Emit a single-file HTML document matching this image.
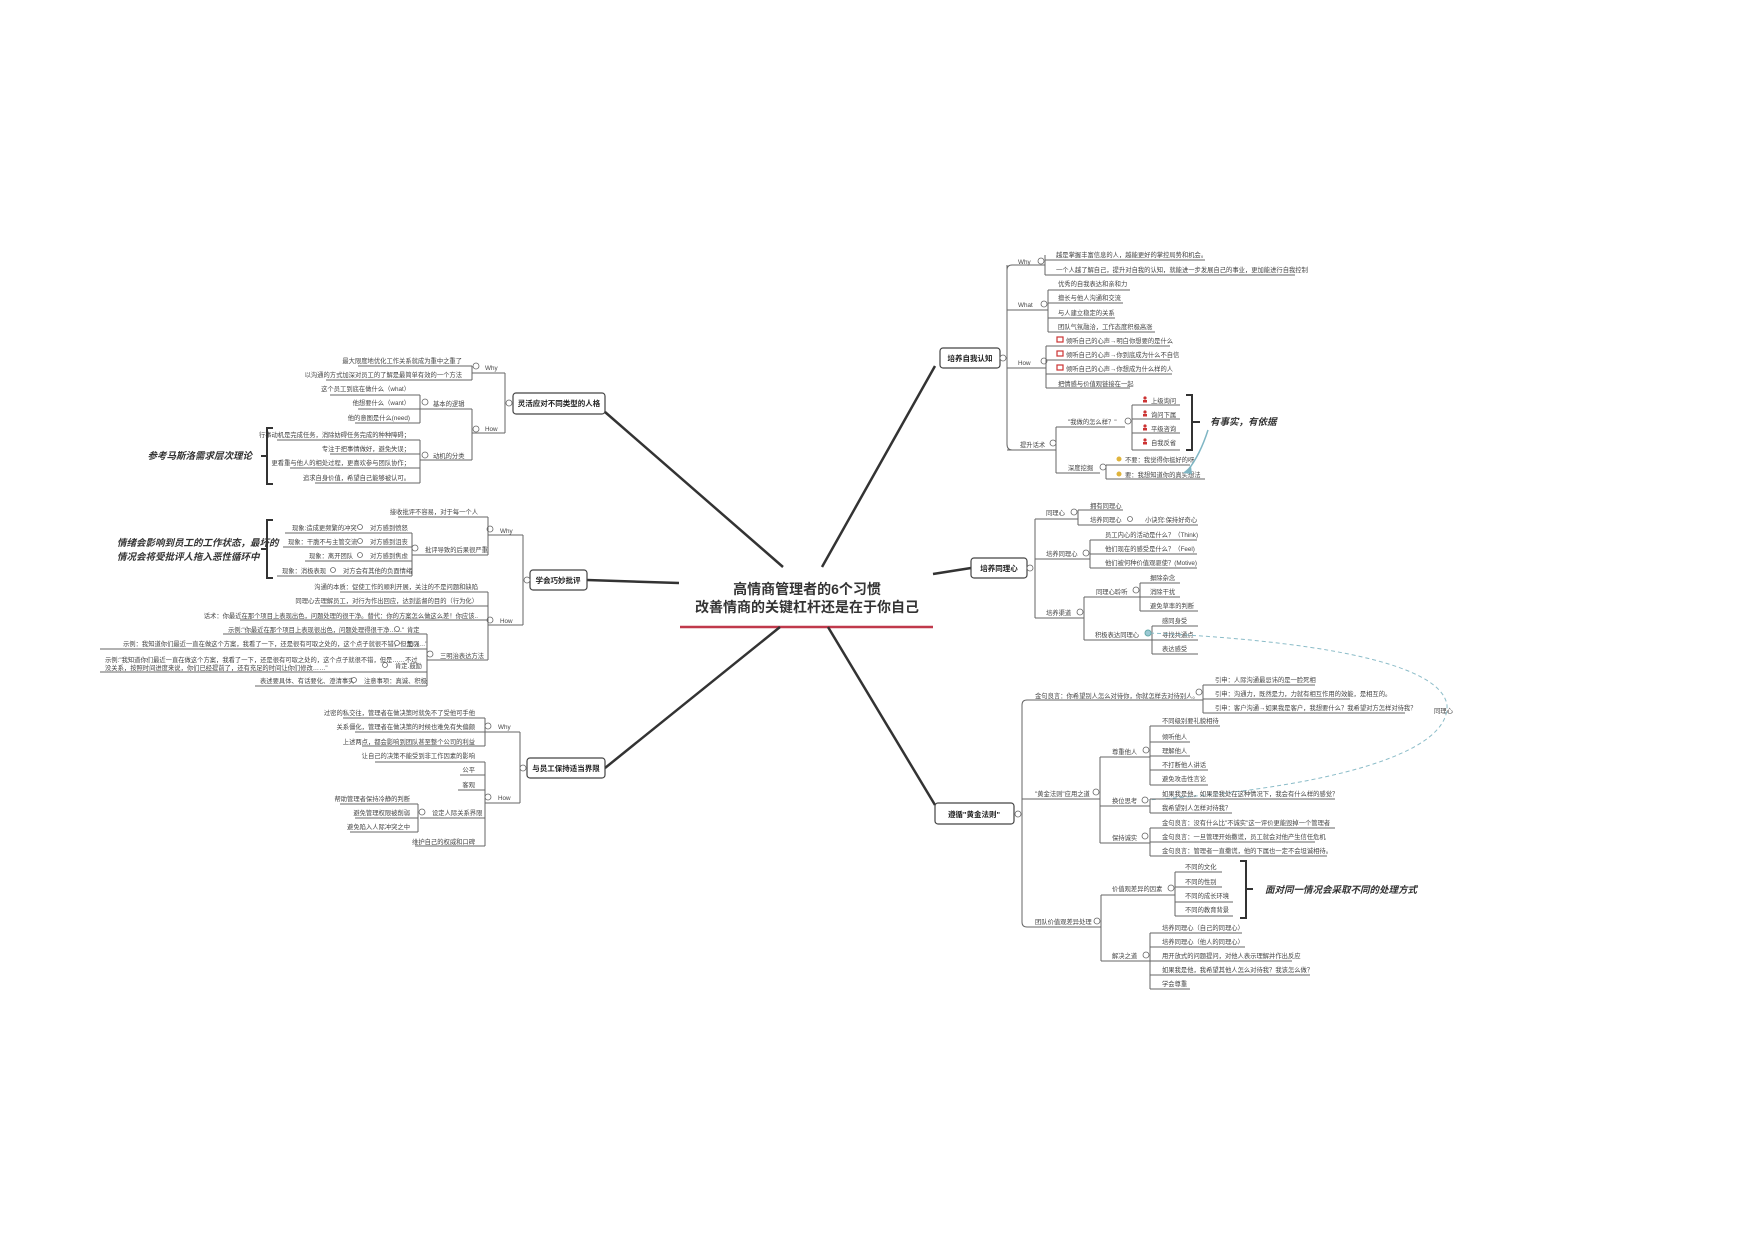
<!DOCTYPE html>
<html><head><meta charset="utf-8"><style>
html,body{margin:0;padding:0;background:#fff}
svg{display:block}
text{font-family:"Liberation Sans","Noto Sans CJK SC",sans-serif;font-size:6.3px;fill:#444}
.r{text-anchor:end}
.b{font-weight:bold;fill:#222;font-size:7.5px}
.bi{font-weight:bold;font-style:italic;fill:#333;font-size:9.5px}
.ln{stroke:#666;stroke-width:1;fill:none}
.m{stroke:#333;stroke-width:2.5;fill:none}
.c{fill:#fff;stroke:#666;stroke-width:.8}
.box{fill:#fff;stroke:#444;stroke-width:1.2}
</style></head><body>
<svg width="1754" height="1239" viewBox="0 0 1754 1239" xmlns="http://www.w3.org/2000/svg">
<!-- root -->
<text x="807" y="594" style="font-size:14px;font-weight:bold;fill:#333;text-anchor:middle">高情商管理者的6个习惯</text>
<text x="807" y="612" style="font-size:14px;font-weight:bold;fill:#333;text-anchor:middle">改善情商的关键杠杆还是在于你自己</text>
<line x1="680" y1="627" x2="933" y2="627" stroke="#c0394b" stroke-width="2.5"/>
<!-- main branches -->
<path class="m" d="M783 567 L605 412"/>
<path class="m" d="M822 567 L935 366"/>
<path class="m" d="M679 583 L587 580"/>
<path class="m" d="M933 574 L971 568"/>
<path class="m" d="M780 627 L605 768"/>
<path class="m" d="M828 627 L935 805"/>
<!-- boxes -->
<rect class="box" x="940" y="348" width="60" height="20" rx="3"/><text class="b" x="970" y="361" text-anchor="middle">培养自我认知</text>
<rect class="box" x="513" y="393" width="92" height="21" rx="3"/><text class="b" x="559" y="406" text-anchor="middle">灵活应对不同类型的人格</text>
<rect class="box" x="530" y="570" width="57" height="20" rx="3"/><text class="b" x="558" y="583" text-anchor="middle">学会巧妙批评</text>
<rect class="box" x="527" y="758" width="78" height="20" rx="3"/><text class="b" x="566" y="771" text-anchor="middle">与员工保持适当界限</text>
<rect class="box" x="971" y="558" width="56" height="20" rx="3"/><text class="b" x="999" y="571" text-anchor="middle">培养同理心</text>
<rect class="box" x="935" y="803" width="79" height="21" rx="3"/><text class="b" x="974" y="817" text-anchor="middle">遵循"黄金法则"</text>

<!-- ========== 培养自我认知 ========== -->
<path class="ln" d="M1002 358 H1007 M1007 265 V444 M1007 270 Q1007 265 1012 265 H1045 M1007 310 H1048 M1007 368 H1046 M1007 450 H1056 M1007 444 Q1007 450 1012 450"/>
<circle class="c" cx="1003" cy="358" r="3"/>
<text x="1018" y="264">Why</text><circle class="c" cx="1041" cy="261" r="3"/>
<path class="ln" d="M1045 255 V275 M1045 260 H1205 M1045 275 H1295"/>
<text x="1056" y="257">越是掌握丰富信息的人，越能更好的掌控局势和机会。</text>
<text x="1056" y="272">一个人越了解自己，提升对自我的认知，就能进一步发展自己的事业，更加能进行自我控制</text>
<text x="1018" y="307">What</text><circle class="c" cx="1044" cy="304" r="3"/>
<path class="ln" d="M1048 290 V332 M1048 290 H1130 M1048 303 H1123 M1048 318 H1115 M1048 332 H1155"/>
<text x="1058" y="286">优秀的自我表达和亲和力</text>
<text x="1058" y="300">擅长与他人沟通和交流</text>
<text x="1058" y="315">与人建立稳定的关系</text>
<text x="1058" y="329">团队气氛融洽，工作态度积极高涨</text>
<text x="1018" y="365">How</text><circle class="c" cx="1044" cy="361" r="3"/>
<path class="ln" d="M1046 346 V388 M1046 346 H1170 M1046 360 H1170 M1046 374 H1172 M1046 388 H1130"/>
<rect x="1057" y="337" width="6" height="5" fill="#fff" stroke="#c33" stroke-width="1.2"/>
<rect x="1057" y="351" width="6" height="5" fill="#fff" stroke="#c33" stroke-width="1.2"/>
<rect x="1057" y="365" width="6" height="5" fill="#fff" stroke="#c33" stroke-width="1.2"/>
<text x="1066" y="343">倾听自己的心声→明白你想要的是什么</text>
<text x="1066" y="357">倾听自己的心声→你到底成为什么不自信</text>
<text x="1066" y="371">倾听自己的心声→你想成为什么样的人</text>
<text x="1058" y="386">把情感与价值观链接在一起</text>
<text x="1020" y="447">提升话术</text><circle class="c" cx="1053" cy="443" r="3"/>
<path class="ln" d="M1056 427 V473 M1056 427 H1125 M1056 473 H1100"/>
<text x="1068" y="424">"我做的怎么样？"</text><circle class="c" cx="1128" cy="421" r="3"/>
<path class="ln" d="M1132 405 V450 M1132 405 H1180 M1132 419 H1180 M1132 433 H1180 M1132 450 H1180"/>
<g fill="#c33"><circle cx="1145" cy="398" r="1.6"/><rect x="1143" y="400" width="4" height="2.5"/><circle cx="1145" cy="412" r="1.6"/><rect x="1143" y="414" width="4" height="2.5"/><circle cx="1145" cy="426" r="1.6"/><rect x="1143" y="428" width="4" height="2.5"/><circle cx="1145" cy="440" r="1.6"/><rect x="1143" y="442" width="4" height="2.5"/></g>
<text x="1151" y="403">上级询问</text><text x="1151" y="417">询问下属</text><text x="1151" y="431">平级咨询</text><text x="1151" y="445">自我反省</text>
<path d="M1186 395 H1192 V450 H1186 M1192 422 H1200" stroke="#333" stroke-width="2" fill="none"/>
<text class="bi" x="1210" y="425">有事实，有依据</text>
<text x="1068" y="470">深度挖掘</text><circle class="c" cx="1103" cy="467" r="3"/>
<path class="ln" d="M1106 465 V479 M1106 465 H1190 M1106 479 H1205"/>
<circle cx="1119" cy="459" r="2.5" fill="#e0b43c"/><circle cx="1119" cy="474" r="2.5" fill="#e0b43c"/>
<text x="1125" y="462">不要：我觉得你挺好的呀</text>
<text x="1125" y="477">要：我想知道你的真实想法</text>
<path d="M1208 430 Q1200 455 1188 470" stroke="#7fb6c4" stroke-width="1.5" fill="none"/>
<path d="M1183 473 L1191 466 L1192 474 Z" fill="#7fb6c4"/>

<!-- ========== 灵活应对 ========== -->
<circle class="c" cx="509" cy="403" r="3"/>
<path class="ln" d="M505 373 V433 M505 373 H472 M505 433 H472"/>
<text x="485" y="370">Why</text><circle class="c" cx="476" cy="366" r="3"/>
<path class="ln" d="M472 366 V380 M472 366 H358 M472 380 H326"/>
<text class="r" x="462" y="363">最大限度地优化工作关系就成为重中之重了</text>
<text class="r" x="462" y="377">以沟通的方式加深对员工的了解是最简单有效的一个方法</text>
<text x="485" y="431">How</text><circle class="c" cx="476" cy="429" r="3"/>
<path class="ln" d="M472 409 V460 M472 409 H420 M472 460 H420"/>
<text x="433" y="406">基本的逻辑</text><circle class="c" cx="425" cy="402" r="3"/>
<path class="ln" d="M420 395 V423 M420 395 H330 M420 409 H358 M420 423 H355"/>
<text class="r" x="410" y="391">这个员工到底在做什么（what）</text>
<text class="r" x="410" y="405">他想要什么（want）</text>
<text class="r" x="410" y="420">他的意图是什么(need)</text>
<text x="433" y="458">动机的分类</text><circle class="c" cx="425" cy="455" r="3"/>
<path class="ln" d="M420 440 V483 M420 440 H277 M420 454 H330 M420 468 H290 M420 483 H315"/>
<text class="r" x="410" y="437">行事动机是完成任务，消除妨碍任务完成的种种障碍；</text>
<text class="r" x="410" y="451">专注于把事情做好，避免失误；</text>
<text class="r" x="410" y="465">更看重与他人的相处过程，更喜欢参与团队协作；</text>
<text class="r" x="410" y="480">追求自身价值，希望自己能够被认可。</text>
<path d="M273 428 H267 V484 H273 M267 456 H261" stroke="#333" stroke-width="2" fill="none"/>
<text class="bi r" x="252" y="459">参考马斯洛需求层次理论</text>

<!-- ========== 学会巧妙批评 ========== -->
<circle class="c" cx="527" cy="580" r="3"/>
<path class="ln" d="M523 535 V625 M523 535 H488 M523 625 H488"/>
<text x="500" y="533">Why</text><circle class="c" cx="490" cy="529" r="3"/>
<path class="ln" d="M488 517 V555 M488 517 H398 M488 555 H412"/>
<text class="r" x="478" y="514">接收批评不容易，对于每一个人</text>
<text x="425" y="552">批评导致的后果很严重</text><circle class="c" cx="415" cy="548" r="3"/>
<path class="ln" d="M412 533 V576 M412 533 H285 M412 547 H283 M412 561 H305 M412 576 H277"/>
<text x="292" y="530">现象:造成更频繁的冲突</text><circle class="c" cx="360" cy="527" r="2.5"/><text x="370" y="530">对方感到愤怒</text>
<text x="288" y="544">现象：干脆不与主管交流</text><circle class="c" cx="360" cy="541" r="2.5"/><text x="370" y="544">对方感到沮丧</text>
<text x="309" y="558">现象：离开团队</text><circle class="c" cx="360" cy="555" r="2.5"/><text x="370" y="558">对方感到焦虑</text>
<text x="282" y="573">现象：消极表现</text><circle class="c" cx="333" cy="570" r="2.5"/><text x="343" y="573">对方会有其他的负面情绪</text>
<path d="M273 520 H267 V578 H273 M267 549 H261" stroke="#333" stroke-width="2" fill="none"/>
<text class="bi" x="117" y="546">情绪会影响到员工的工作状态，最坏的</text>
<text class="bi" x="117" y="560">情况会将受批评人拖入恶性循环中</text>
<text x="500" y="623">How</text><circle class="c" cx="490" cy="620" r="3"/>
<path class="ln" d="M488 592 V660 M488 592 H340 M488 606 H320 M488 620 H240 M488 660 H427"/>
<text class="r" x="478" y="589">沟通的本质：促使工作的顺利开展，关注的不是问题和缺陷</text>
<text class="r" x="478" y="603">同理心去理解员工，对行为作出回应，达到监督的目的（行为化）</text>
<text class="r" x="478" y="618">话术：你最近在那个项目上表现出色，问题处理的很干净。替代：你的方案怎么做这么差！你应该..</text>
<text x="440" y="658">三明治表达方法</text><circle class="c" cx="430" cy="654" r="3"/>
<path class="ln" d="M427 634 V686 M427 634 H223 M427 649 H100 M427 672 H100 M427 686 H255"/>
<text x="228" y="632">示例:"你最近在那个项目上表现很出色，问题处理得很干净……"</text><circle class="c" cx="397" cy="629" r="2.5"/><text x="407" y="632">肯定</text>
<text x="123" y="646">示例：我知道你们最近一直在做这个方案，我看了一下，还是很有可取之处的，这个点子就很不错，但是……"</text><circle class="c" cx="397" cy="643" r="2.5"/><text x="407" y="646">加强</text>
<text x="105" y="662">示例:"我知道你们最近一直在做这个方案，我看了一下，还是很有可取之处的，这个点子就很不错，但是……不过</text>
<text x="105" y="670">没关系，按照时间进度来说，你们已经提前了，还有充足的时间让你们修改……"</text>
<circle class="c" cx="385" cy="665" r="2.5"/><text x="395" y="668">肯定.鼓励</text>
<text x="260" y="683">表述要具体、有话要化、澄清事实</text><circle class="c" cx="354" cy="680" r="2.5"/><text x="364" y="683">注意事项：真诚、积极</text>

<!-- ========== 与员工保持适当界限 ========== -->
<circle class="c" cx="523" cy="768" r="3"/>
<path class="ln" d="M520 732 V803 M520 732 H485 M520 803 H485"/>
<text x="498" y="729">Why</text><circle class="c" cx="488" cy="726" r="3"/>
<path class="ln" d="M485 718 V746 M485 718 H343 M485 732 H355 M485 746 H362"/>
<text class="r" x="475" y="715">过密的私交往，管理者在做决策时就免不了受他可手他</text>
<text class="r" x="475" y="729">关系僵化，管理者在做决策的时候也难免有失偏颇</text>
<text class="r" x="475" y="744">上述两点，都会影响到团队甚至整个公司的利益</text>
<text x="498" y="800">How</text><circle class="c" cx="488" cy="797" r="3"/>
<path class="ln" d="M485 762 V846 M485 762 H375 M485 775 H460 M485 790 H458 M485 818 H420 M485 846 H415"/>
<text class="r" x="475" y="758">让自己的决策不能受到非工作因素的影响</text>
<text class="r" x="475" y="772">公平</text>
<text class="r" x="475" y="787">客观</text>
<text x="432" y="815">设定人际关系界限</text><circle class="c" cx="422" cy="812" r="3"/>
<path class="ln" d="M418 804 V832 M418 804 H340 M418 818 H355 M418 832 H350"/>
<text class="r" x="410" y="801">帮助管理者保持冷静的判断</text>
<text class="r" x="410" y="815">避免管理权限被削弱</text>
<text class="r" x="410" y="829">避免陷入人际冲突之中</text>
<text class="r" x="475" y="844">维护自己的权威和口碑</text>

<!-- ========== 培养同理心 ========== -->
<circle class="c" cx="1030" cy="568" r="3"/>
<path class="ln" d="M1035 519 V618 M1035 519 H1078 M1035 559 H1090 M1035 618 H1084"/>
<text x="1046" y="515">同理心</text><circle class="c" cx="1074" cy="512" r="3"/>
<path class="ln" d="M1078 510 V525 M1078 510 H1123 M1078 525 H1198"/>
<text x="1090" y="508">拥有同理心</text>
<text x="1090" y="522">培养同理心</text><circle class="c" cx="1130" cy="519" r="2.5"/><text x="1145" y="522">小诀窍:保持好奇心</text>
<text x="1046" y="556">培养同理心</text><circle class="c" cx="1086" cy="553" r="3"/>
<path class="ln" d="M1090 540 V568 M1090 540 H1197 M1090 554 H1197 M1090 568 H1197"/>
<text x="1105" y="537">员工内心的活动是什么？（Think)</text>
<text x="1105" y="551">他们现在的感受是什么？（Feel)</text>
<text x="1105" y="565">他们被何种价值观驱使？(Motive)</text>
<text x="1046" y="615">培养渠道</text><circle class="c" cx="1080" cy="612" r="3"/>
<path class="ln" d="M1084 597 V640 M1084 597 H1140 M1084 640 H1152"/>
<text x="1096" y="594">同理心聆听</text><circle class="c" cx="1136" cy="590" r="3"/>
<path class="ln" d="M1140 583 V611 M1140 583 H1180 M1140 597 H1180 M1140 611 H1198"/>
<text x="1150" y="580">摒除杂念</text><text x="1150" y="594">消除干扰</text><text x="1150" y="608">避免草率的判断</text>
<text x="1095" y="637">积极表达同理心</text><circle cx="1148" cy="633" r="3" fill="#9cc9d4" stroke="#6aa"/>
<path class="ln" d="M1152 626 V654 M1152 626 H1198 M1152 640 H1198 M1152 654 H1198"/>
<text x="1162" y="623">感同身受</text><text x="1162" y="637">寻找共通点</text><text x="1162" y="651">表达感受</text>
<path d="M1150 633 C1300 640 1440 660 1447 705 C1450 760 1300 790 1147 800" stroke="#8bbcc8" stroke-width="1" stroke-dasharray="4,3" fill="none"/>
<text x="1434" y="713">同理心</text>

<!-- ========== 遵循黄金法则 ========== -->
<circle class="c" cx="1018" cy="814" r="3"/>
<path class="ln" d="M1022 705 V922 M1022 705 Q1022 700 1027 700 H1203 M1022 799 H1100 M1022 922 Q1022 927 1027 927 H1101"/>
<text x="1035" y="698">金句良言：你希望别人怎么对待你，你就怎样去对待别人。</text><circle class="c" cx="1199" cy="692" r="3"/>
<path class="ln" d="M1203 685 V713 M1203 685 H1315 M1203 699 H1350 M1203 713 H1405"/>
<text x="1215" y="682">引申：人际沟通最忌讳的是一脸死相</text>
<text x="1215" y="696">引申：沟通力，既然是力，力就有相互作用的效能，是相互的。</text>
<text x="1215" y="710">引申：客户沟通→如果我是客户，我想要什么？我希望对方怎样对待我？</text>
<text x="1035" y="796">"黄金法则"应用之道</text><circle class="c" cx="1096" cy="792" r="3"/>
<path class="ln" d="M1100 757 V843 M1100 757 H1150 M1100 806 H1150 M1100 843 H1150"/>
<text x="1112" y="754">尊重他人</text><circle class="c" cx="1146" cy="750" r="3"/>
<path class="ln" d="M1150 726 V785 M1150 726 H1220 M1150 742 H1190 M1150 756 H1190 M1150 770 H1208 M1150 785 H1208"/>
<text x="1162" y="723">不同级别要礼貌相待</text><text x="1162" y="739">倾听他人</text><text x="1162" y="753">理解他人</text><text x="1162" y="767">不打断他人讲话</text><text x="1162" y="781">避免攻击性言论</text>
<text x="1112" y="803">换位思考</text><circle class="c" cx="1145" cy="800" r="3"/>
<path class="ln" d="M1150 799 V813 M1150 799 H1335 M1150 813 H1232"/>
<text x="1162" y="796">如果我是他，如果是我处在这种情况下，我会有什么样的感觉？</text>
<text x="1162" y="810">我希望别人怎样对待我？</text>
<text x="1112" y="840">保持诚实</text><circle class="c" cx="1145" cy="836" r="3"/>
<path class="ln" d="M1150 828 V856 M1150 828 H1335 M1150 842 H1315 M1150 856 H1327"/>
<text x="1162" y="825">金句良言：没有什么比"不诚实"这一评价更能毁掉一个管理者</text>
<text x="1162" y="839">金句良言：一旦管理开始撒谎，员工就会对他产生信任危机</text>
<text x="1162" y="853">金句良言：管理者一直撒谎，他的下属也一定不会坦诚相待。</text>
<text x="1035" y="924">团队价值观差异处理</text><circle class="c" cx="1097" cy="921" r="3"/>
<path class="ln" d="M1101 895 V961 M1101 895 H1175 M1101 961 H1150"/>
<text x="1112" y="891">价值观差异的因素</text><circle class="c" cx="1171" cy="888" r="3"/>
<path class="ln" d="M1175 872 V916 M1175 872 H1222 M1175 887 H1222 M1175 902 H1233 M1175 916 H1233"/>
<text x="1185" y="869">不同的文化</text><text x="1185" y="884">不同的性别</text><text x="1185" y="898">不同的成长环境</text><text x="1185" y="912">不同的教育背景</text>
<path d="M1240 861 H1246 V918 H1240 M1246 889 H1253" stroke="#333" stroke-width="2" fill="none"/>
<text class="bi" x="1265" y="893">面对同一情况会采取不同的处理方式</text>
<text x="1112" y="958">解决之道</text><circle class="c" cx="1146" cy="955" r="3"/>
<path class="ln" d="M1150 933 V989 M1150 933 H1242 M1150 947 H1245 M1150 961 H1292 M1150 975 H1310 M1150 989 H1190"/>
<text x="1162" y="930">培养同理心（自己的同理心）</text>
<text x="1162" y="944">培养同理心（他人的同理心）</text>
<text x="1162" y="958">用开放式的问题提问，对他人表示理解并作出反应</text>
<text x="1162" y="972">如果我是他，我希望其他人怎么对待我？我该怎么做？</text>
<text x="1162" y="986">学会尊重</text>
</svg>
</body></html>
